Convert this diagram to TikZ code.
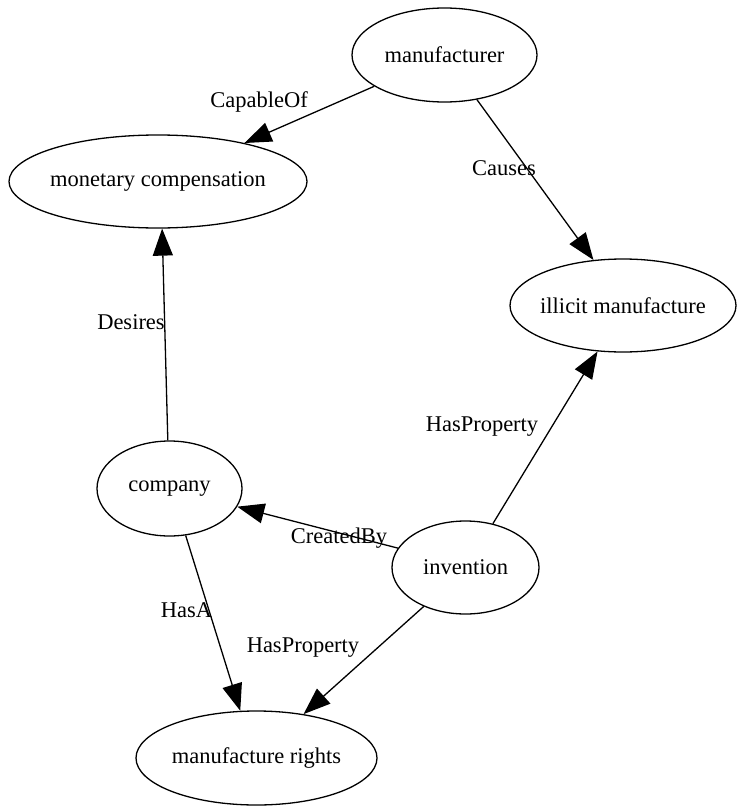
\documentclass[tikz,border=0pt]{standalone}
\usepackage{fontspec}
\setmainfont{Liberation Serif}
\usetikzlibrary{arrows.meta,shapes.geometric}
\begin{document}
\begin{tikzpicture}[x=1pt,y=-1pt,
  concept/.style={draw,ellipse,line width=1.3pt,inner ysep=0pt,inner xsep=-30pt,font=\fontsize{22.5}{26}\selectfont},
  rel/.style={line width=1.3pt,-{Triangle[length=27pt,width=20pt]}},
  lbl/.style={font=\fontsize{22.5}{26}\selectfont}]
  \useasboundingbox (0,0) rectangle (738,808);
  \node[concept,minimum width=185pt,minimum height=94pt] (mfr) at (444.5,55) {manufacturer};
  \node[concept,minimum width=298pt,minimum height=93pt] (money) at (158,181.5) {monetary compensation};
  \node[concept,minimum width=226pt,minimum height=93pt] (illicit) at (623,305.5) {illicit manufacture};
  \node[concept,minimum width=145pt,minimum height=95pt] (company) at (169.5,488.5) {company};
  \node[concept,minimum width=147pt,minimum height=93pt] (invention) at (465.5,567.5) {invention};
  \node[concept,minimum width=241pt,minimum height=94pt] (rights) at (256.5,758) {manufacture rights};
  % relations
  \draw[rel] (mfr.204) -- (money.24);
  \node[lbl] (capable) at (259,102) {CapableOf};
  \draw[rel] (mfr.-54) -- (illicit.123);
  \node[lbl] (causes) at (504,168) {Causes};
  \draw[rel] (company.92) -- (money.-85);
  \node[lbl] (desires) at (131,322) {Desires};
  \draw[rel] (invention.58) -- (illicit.-119);
  \node[lbl] (hasprop1) at (482,427) {HasProperty};
  \draw[rel] (invention.164) -- (company.-15);
  \node[lbl] (created) at (339,538) {CreatedBy};
  \draw[rel] (company.-71) -- (rights.109);
  \node[lbl] (hasa) at (186.5,610) {HasA};
  \draw[rel] (invention.-137) -- (rights.43);
  \node[lbl] (hasprop2) at (303,648) {HasProperty};
\end{tikzpicture}
\end{document}
